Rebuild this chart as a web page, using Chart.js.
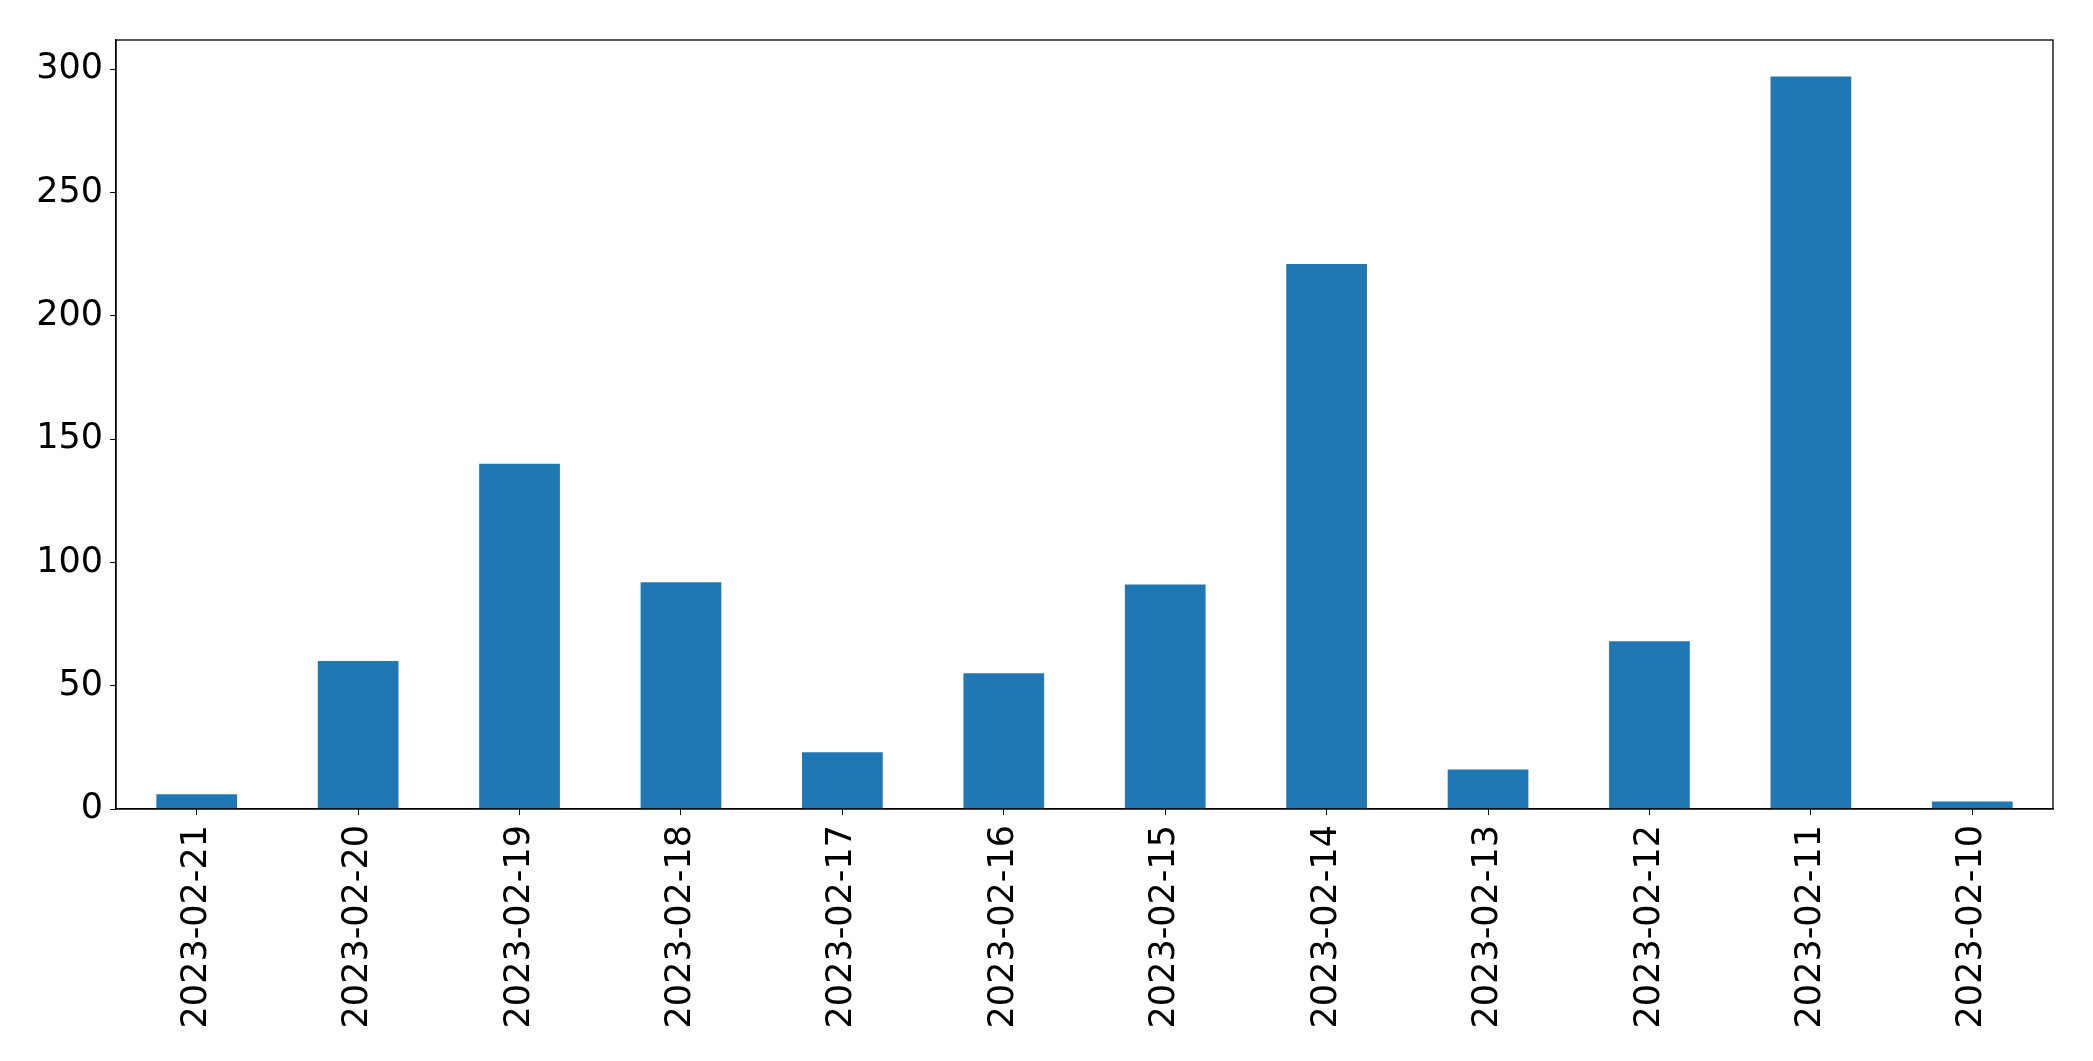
<!DOCTYPE html>
<html>
<head>
<meta charset="utf-8">
<script src="https://cdn.jsdelivr.net/npm/chart.js@4"></script>
<style>
  body { margin: 0; background: #fff; }
</style>
</head>
<body>
<canvas id="grafico" width="2093" height="1061"></canvas>
<script>
var fechas = ['2023-02-21', '2023-02-20', '2023-02-19', '2023-02-18', '2023-02-17', '2023-02-16',
              '2023-02-15', '2023-02-14', '2023-02-13', '2023-02-12', '2023-02-11', '2023-02-10'];
var conteos = [6, 60, 140, 92, 23, 55, 91, 221, 16, 68, 297, 3];
var marcasY = [0, 50, 100, 150, 200, 250, 300];

// marco negro alrededor del area de dibujo
var marco = {
    id: 'marco',
    afterDraw: function (chart) {
        var a = chart.chartArea, c = chart.ctx;
        c.save();
        c.strokeStyle = '#000';
        c.lineWidth = 1.3;
        c.strokeRect(a.left, a.top, a.right - a.left, a.bottom - a.top);
        c.restore();
    }
};

var ctx = document.getElementById('grafico').getContext('2d');
var myChart = new Chart(ctx, {
    type: 'bar',
    data: {
        labels: fechas,
        datasets: [{
            data: conteos,
            backgroundColor: '#1f77b4',
            borderWidth: 0,
            barPercentage: 0.5,
            categoryPercentage: 1.0
        }]
    },
    options: {
        responsive: false,
        animation: false,
        layout: { padding: { top: 40, right: 40, left: 0, bottom: 0 } },
        plugins: { legend: { display: false }, tooltip: { enabled: false } },
        scales: {
            x: {
                offset: true,
                grid: { display: true, offset: false, drawOnChartArea: false, drawTicks: true, tickLength: 6, color: '#000' },
                border: { display: true, color: '#000', width: 1.3 },
                ticks: {
                    color: '#000',
                    font: { family: 'DejaVu Sans', size: 35 },
                    minRotation: 90,
                    maxRotation: 90,
                    padding: 10,
                    autoSkip: false
                },
                afterFit: function (s) { s.height = 252; }
            },
            y: {
                min: 0,
                max: Math.max.apply(null, conteos) * 1.05,
                grid: { display: true, drawOnChartArea: false, drawTicks: true, tickLength: 6, color: '#000' },
                border: { display: true, color: '#000', width: 1.3 },
                afterBuildTicks: function (s) {
                    s.ticks = marcasY.map(function (v) { return { value: v }; });
                },
                ticks: {
                    color: '#000',
                    font: { family: 'DejaVu Sans', size: 35 },
                    padding: 7
                },
                afterFit: function (s) { s.width = 116; }
            }
        }
    },
    plugins: [marco]
});
</script>
</body>
</html>
